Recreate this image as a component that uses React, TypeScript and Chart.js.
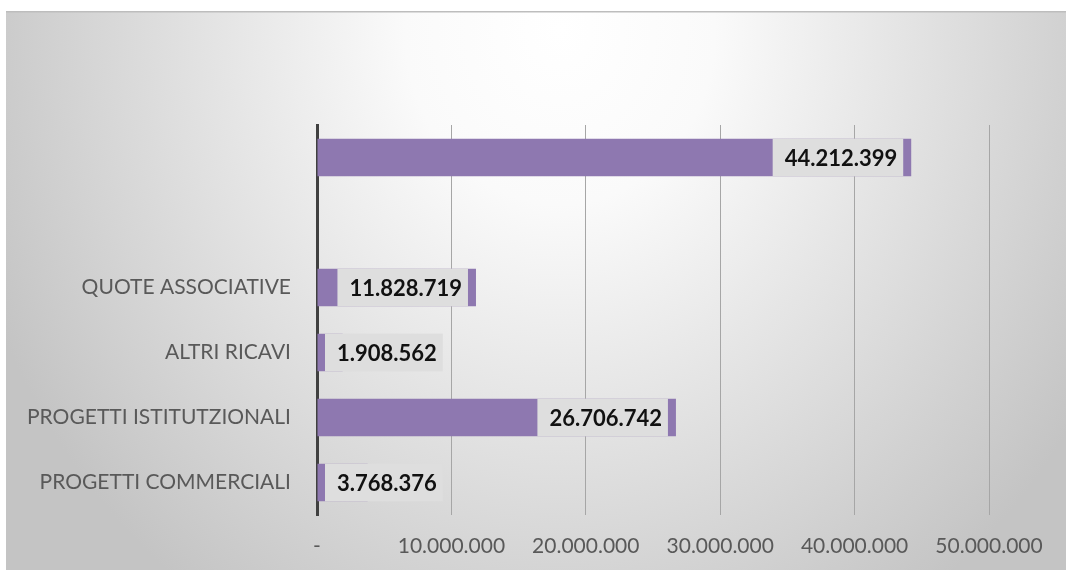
import React, { useEffect, useRef } from "react";
import { Chart, registerables } from "chart.js";

Chart.register(...registerables);

const categories: string[] = [
  "",
  "",
  "QUOTE ASSOCIATIVE",
  "ALTRI RICAVI",
  "PROGETTI ISTITUTZIONALI",
  "PROGETTI COMMERCIALI",
];
const values: (number | null)[] = [44212399, null, 11828719, 1908562, 26706742, 3768376];
const axisMin = 0;
const axisMax = 50000000;
const axisStep = 10000000;

const fmt = (n: number): string =>
  n === 0 ? "-" : Math.round(n).toString().replace(/\B(?=(\d{3})+(?!\d))/g, ".");

const bgPlugin = {
  id: "bgPlugin",
  beforeDraw(chart: any) {
    const ctx = chart.ctx as CanvasRenderingContext2D;
    const W = chart.width;
    const H = chart.height;
    ctx.save();
    ctx.fillStyle = "#ffffff";
    ctx.fillRect(0, 0, W, H);
    const x0 = 6, y0 = 11;
    const cx = 560, cy = 30, rx = 620, ry = 700;
    ctx.beginPath();
    ctx.rect(x0, y0, W - x0, H - y0);
    ctx.clip();
    ctx.translate(cx, cy);
    ctx.scale(rx / ry, 1);
    const g = ctx.createRadialGradient(0, 0, 0, 0, 0, ry);
    g.addColorStop(0, "#ffffff");
    g.addColorStop(0.25, "#fafafa");
    g.addColorStop(1, "#c4c4c4");
    ctx.fillStyle = g;
    ctx.fillRect(-2000, -2000, 4000, 4000);
    ctx.restore();
    ctx.save();
    ctx.fillStyle = "#bdbdbd";
    ctx.fillRect(x0, y0, W - x0, 1.5);
    ctx.restore();
  },
};

const labelPlugin = {
  id: "labelPlugin",
  afterDatasetsDraw(chart: any) {
    const ctx = chart.ctx as CanvasRenderingContext2D;
    const meta = chart.getDatasetMeta(0);
    const data = chart.data.datasets[0].data as (number | null)[];
    const left0 = chart.chartArea.left;
    ctx.save();
    ctx.font = "bold 22px Lato";
    ctx.textBaseline = "middle";
    ctx.textAlign = "left";
    meta.data.forEach((bar: any, i: number) => {
      const v = data[i];
      if (v === null || v === undefined) return;
      const text = fmt(v);
      const tw = ctx.measureText(text).width;
      const bw = tw + 18;
      let left = bar.x - 8 - bw;
      if (left < left0 + 8) left = left0 + 8;
      const top = bar.y - bar.height / 2;
      ctx.fillStyle = "#dedede";
      ctx.fillRect(left, top, bw, bar.height);
      ctx.fillStyle = "#111111";
      ctx.fillText(text, left + 12, bar.y + 1);
    });
    ctx.restore();
  },
};

export default function App() {
  const ref = useRef<HTMLCanvasElement | null>(null);
  useEffect(() => {
    if (!ref.current) return;
    const chart = new Chart(ref.current, {
      type: "bar",
      data: {
        labels: categories,
        datasets: [
          {
            data: values,
            backgroundColor: "#8e78b0",
            borderWidth: 0,
            barPercentage: 0.58,
            categoryPercentage: 1,
          },
        ],
      },
      options: {
        indexAxis: "y",
        responsive: false,
        animation: false,
        devicePixelRatio: 1,
        layout: { padding: { top: 125, right: 77, left: 0, bottom: 0 } },
        plugins: { legend: { display: false }, tooltip: { enabled: false } },
        scales: {
          x: {
            min: axisMin,
            max: axisMax,
            grid: { color: "#a6a6a6", lineWidth: 1, drawTicks: false },
            border: { display: false },
            ticks: {
              stepSize: axisStep,
              color: "#595959",
              font: { family: "Lato", size: 21 },
              padding: 19,
              maxRotation: 0,
              callback: (v: any) => fmt(Number(v)),
            },
            afterFit: (s: any) => {
              s.height = 55;
            },
          },
          y: {
            grid: { display: false, drawTicks: false },
            border: { display: true, color: "#404040", width: 3 },
            ticks: {
              color: "#595959",
              font: { family: "Lato", size: 21 },
              padding: 26,
            },
            afterFit: (s: any) => {
              s.width = 317;
            },
          },
        },
      },
      plugins: [bgPlugin, labelPlugin],
    });
    return () => chart.destroy();
  }, []);
  return (
    <div style={{ position: "fixed", left: 0, top: 0, width: 1066, height: 570 }}>
      <canvas ref={ref} width={1066} height={570} />
    </div>
  );
}
